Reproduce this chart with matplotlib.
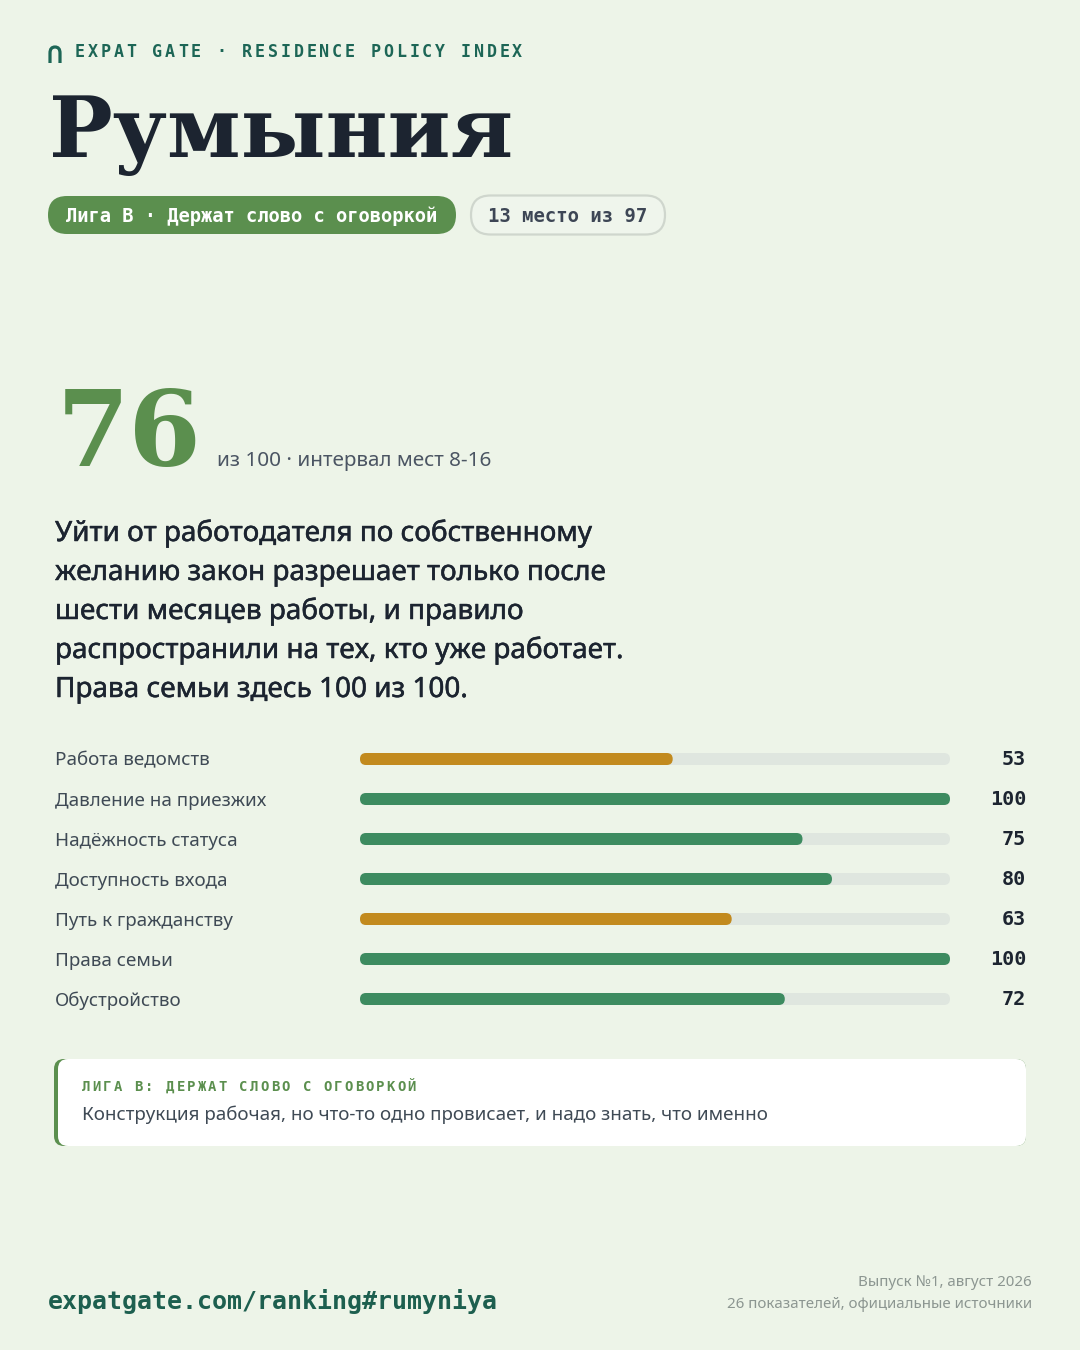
import matplotlib
matplotlib.use("Agg")
import matplotlib.pyplot as plt
from matplotlib.patches import FancyBboxPatch
from matplotlib.path import Path
from matplotlib.patches import PathPatch
from matplotlib.transforms import blended_transform_factory
import matplotlib.patheffects as pe
import numpy as np

# ---------------- data ----------------
brand = "EXPAT GATE · RESIDENCE POLICY INDEX"
country = "Румыния"
league_pill = "Лига B · Держат слово с оговоркой"
rank_pill = "13 место из 97"
score = 76
score_note = "из 100 · интервал мест 8-16"
summary_lines = [
    "Уйти от работодателя по собственному",
    "желанию закон разрешает только после",
    "шести месяцев работы, и правило",
    "распространили на тех, кто уже работает.",
    "Права семьи здесь 100 из 100.",
]
categories = ["Работа ведомств", "Давление на приезжих", "Надёжность статуса",
              "Доступность входа", "Путь к гражданству", "Права семьи", "Обустройство"]
values = [53, 100, 75, 80, 63, 100, 72]
bar_tone = ["warn", "good", "good", "good", "warn", "good", "good"]
callout_title = "ЛИГА B: ДЕРЖАТ СЛОВО С ОГОВОРКОЙ"
callout_text = "Конструкция рабочая, но что-то одно провисает, и надо знать, что именно"
footer_url = "expatgate.com/ranking#rumyniya"
footer_right = ["Выпуск №1, август 2026", "26 показателей, официальные источники"]

# ---------------- style ----------------
BG = "#edf4e8"
DARK = "#1c2430"
TEAL = "#1d6656"
GREEN = "#5b8f4e"
BAR_GREEN = "#3d8b60"
GOLD = "#c28a1e"
TRACK = "#dfe6df"
SLATE = "#3f4a55"
GREY = "#8c9691"
MONO = "DejaVu Sans Mono"
SANS = ["Noto Sans", "DejaVu Sans"]
SERIF = "DejaVu Serif"

W, H = 1080, 1350
fig = plt.figure(figsize=(W / 100, H / 100), dpi=100, facecolor=BG)
ax = fig.add_axes([0, 0, 1, 1])
ax.set_xlim(0, W)
ax.set_ylim(H, 0)
ax.axis("off")
ax.set_facecolor(BG)


def spaced(x0, y, s, adv, **kw):
    for i, ch in enumerate(s):
        ax.text(x0 + i * adv, y, ch, ha="left", va="center", **kw)


# header icon (arch)
verts = [(50, 63), (50, 53), (50, 47), (55, 47), (60, 47), (60, 53), (60, 63)]
codes = [Path.MOVETO, Path.LINETO, Path.CURVE3, Path.CURVE3, Path.CURVE3, Path.CURVE3, Path.LINETO]
ax.add_patch(PathPatch(Path(verts, codes), fill=False, lw=2.3, ec=TEAL, capstyle="butt"))

spaced(75, 52, brand, 12.86, fontsize=12, fontweight="bold", family=MONO, color=TEAL)

# title
ax.text(49, 157, country, fontsize=61, fontweight="bold", family=SERIF, color=DARK,
        ha="left", va="baseline")

# pills
ax.add_patch(FancyBboxPatch((48, 196), 408, 38, boxstyle="round,pad=0,rounding_size=19",
                            fc=GREEN, ec="none"))
ax.text(252, 216, league_pill, fontsize=13.5, fontweight="bold", family=MONO,
        color="white", ha="center", va="center")
ax.add_patch(FancyBboxPatch((471, 195.5), 194, 39, boxstyle="round,pad=0,rounding_size=19.5",
                            fc="#eff5ec", ec="#cfd6cd", lw=1.6))
ax.text(568, 216, rank_pill, fontsize=13.6, fontweight="bold", family=MONO,
        color="#3d4655", ha="center", va="center")

# score
ax.text(57, 466, str(score), fontsize=75, fontweight="bold", family=SERIF, color=GREEN,
        ha="left", va="baseline")
ax.text(217, 466, score_note, fontsize=14.9, family=SANS, color="#4b5563",
        ha="left", va="baseline")

# summary
for i, line in enumerate(summary_lines):
    ax.text(55, 541 + 39 * i, line, fontsize=20.1, family=SANS,
            color=DARK, ha="left", va="baseline",
            path_effects=[pe.withStroke(linewidth=0.35, foreground=DARK)])

# bars
row0, step = 759, 40
n = len(categories)
axb = fig.add_axes([360 / W, 1 - (row0 - step / 2 + n * step) / H, 590 / W, n * step / H])
axb.set_xlim(0, 100)
axb.set_ylim(n - 0.5, -0.5)
axb.axis("off")
ypos = np.arange(n)
bar_h = 12 / step
colors = [GOLD if t == "warn" else BAR_GREEN for t in bar_tone]
tracks = axb.barh(ypos, [100] * n, height=bar_h, color=TRACK)
bars = axb.barh(ypos, values, height=bar_h, color=colors)

px_per_x = 590 / 100
px_per_y = step
r_px = 6
r_x = r_px / px_per_x
aspect = (r_px / px_per_y) / r_x
for cont in (tracks, bars):
    for p in cont.patches:
        x, y, w, h = p.get_x(), p.get_y(), p.get_width(), p.get_height()
        fp = FancyBboxPatch((x, y), w, h, boxstyle=f"round,pad=0,rounding_size={r_x}",
                            mutation_aspect=aspect, fc=p.get_facecolor(), ec="none")
        p.set_visible(False)
        axb.add_patch(fp)

tr = blended_transform_factory(ax.transData, axb.transData)
for i, (c, v) in enumerate(zip(categories, values)):
    axb.text(55, i + 0.04, c, transform=tr, fontsize=13.5, family=SANS, color=SLATE,
             ha="left", va="center")
    axb.text(1026, i + 0.02, str(v), transform=tr, fontsize=14.5, fontweight="bold", family=MONO,
             color=DARK, ha="right", va="center")

# callout
ax.add_patch(FancyBboxPatch((54, 1059), 972, 87, boxstyle="round,pad=0,rounding_size=10",
                            fc=GREEN, ec="none"))
ax.add_patch(FancyBboxPatch((58, 1059), 968, 87, boxstyle="round,pad=0,rounding_size=10",
                            fc="white", ec="none"))
spaced(82, 1087, callout_title, 10.5, fontsize=10, fontweight="bold", family=MONO, color=GREEN)
ax.text(82, 1115, callout_text, fontsize=13.5, family=SANS, color=SLATE,
        ha="left", va="center")

# footer
ax.text(48, 1301, footer_url, fontsize=17.9, fontweight="bold", family=MONO, color="#1d5f4f",
        ha="left", va="center")
ax.text(1032, 1282, footer_right[0], fontsize=10.9, family=SANS, color=GREY,
        ha="right", va="center")
ax.text(1032, 1305, footer_right[1], fontsize=10.9, family=SANS, color=GREY,
        ha="right", va="center")

fig.savefig("out.png", dpi=100, facecolor=BG)
